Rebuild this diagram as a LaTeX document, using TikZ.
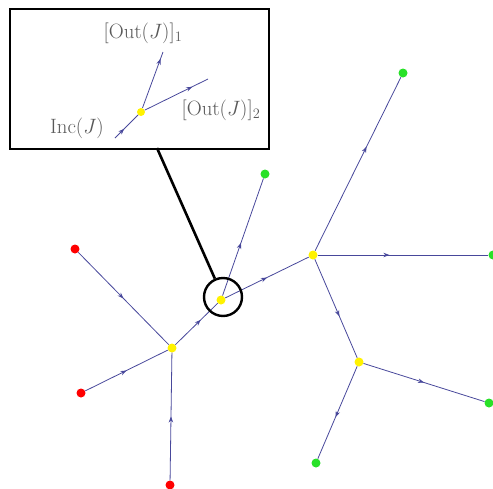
\documentclass[tikz,border=0pt]{standalone}
\usepackage{amsmath}
\usetikzlibrary{arrows.meta,decorations.markings}
\definecolor{flowblue}{RGB}{72,72,155}
\definecolor{leafgreen}{RGB}{40,225,40}
\begin{document}
\begin{tikzpicture}[x=1pt, y=-1pt,
  dot/.style={circle, fill=#1, inner sep=0pt, minimum size=9pt},
  flow/.style={draw=flowblue, line width=0.8pt, postaction={decorate},
               decoration={markings, mark=at position #1 with {\arrow{Stealth[length=6pt, width=4.5pt]}}}},
  flow/.default=0.5,
  tag/.style={text=black!65, font=\fontsize{20}{22}\selectfont, inner sep=1pt}]
  \useasboundingbox (0,0) rectangle (493,488);
  % tree
  \node[dot=red] (r1) at (75,249) {};
  \node[dot=red] (r2) at (81,393) {};
  \node[dot=red] (r3) at (170,485) {};
  \node[dot=yellow] (j1) at (172,348) {};
  \node[dot=yellow] (j2) at (221,300) {};
  \node[dot=yellow] (j3) at (313,255) {};
  \node[dot=yellow] (j4) at (359,362) {};
  \node[dot=leafgreen] (g1) at (403,73) {};
  \node[dot=leafgreen] (g2) at (265,174) {};
  \node[dot=leafgreen] (g3) at (493,255) {};
  \node[dot=leafgreen] (g4) at (489,403) {};
  \node[dot=leafgreen] (g5) at (316,463) {};
  \draw[flow] (r1) -- (j1);
  \draw[flow] (r2) -- (j1);
  \draw[flow] (r3) -- (j1);
  \draw[flow=0.6] (j1) -- (j2);
  \draw[flow=0.45] (j2) -- (g2);
  \draw[flow] (j2) -- (j3);
  \draw[flow=0.6] (j3) -- (g1);
  \draw[flow=0.42] (j3) -- (g3);
  \draw[flow=0.58] (j3) -- (j4);
  \draw[flow] (j4) -- (g4);
  \draw[flow=0.55] (j4) -- (g5);
  % zoom lens
  \node[circle, draw, line width=2.4pt, minimum size=38pt] (lens) at (223,297) {};
  \node[draw, line width=2.4pt, minimum width=259pt, minimum height=140pt, anchor=north west] (inset) at (9,8) {};
  \coordinate (tail) at (157,148);
  \draw[line width=2.6pt] (tail) -- (lens);
  % inset contents
  \node[dot=yellow, minimum size=8pt] (jz) at (141,112) {};
  \coordinate (inc) at (115,138);
  \coordinate (out1) at (163,52);
  \coordinate (out2) at (208,79);
  \draw[flow=0.4] (inc) -- (jz);
  \draw[flow=0.88] (jz) -- (out1);
  \draw[flow=0.75] (jz) -- (out2);
  \node[tag] (l1) at (143,33) {$[\mathrm{Out}(J)]_1$};
  \node[tag] (l2) at (221,110) {$[\mathrm{Out}(J)]_2$};
  \node[tag, anchor=east] (l3) at (105,128) {$\mathrm{Inc}(J)$};
\end{tikzpicture}
\end{document}
